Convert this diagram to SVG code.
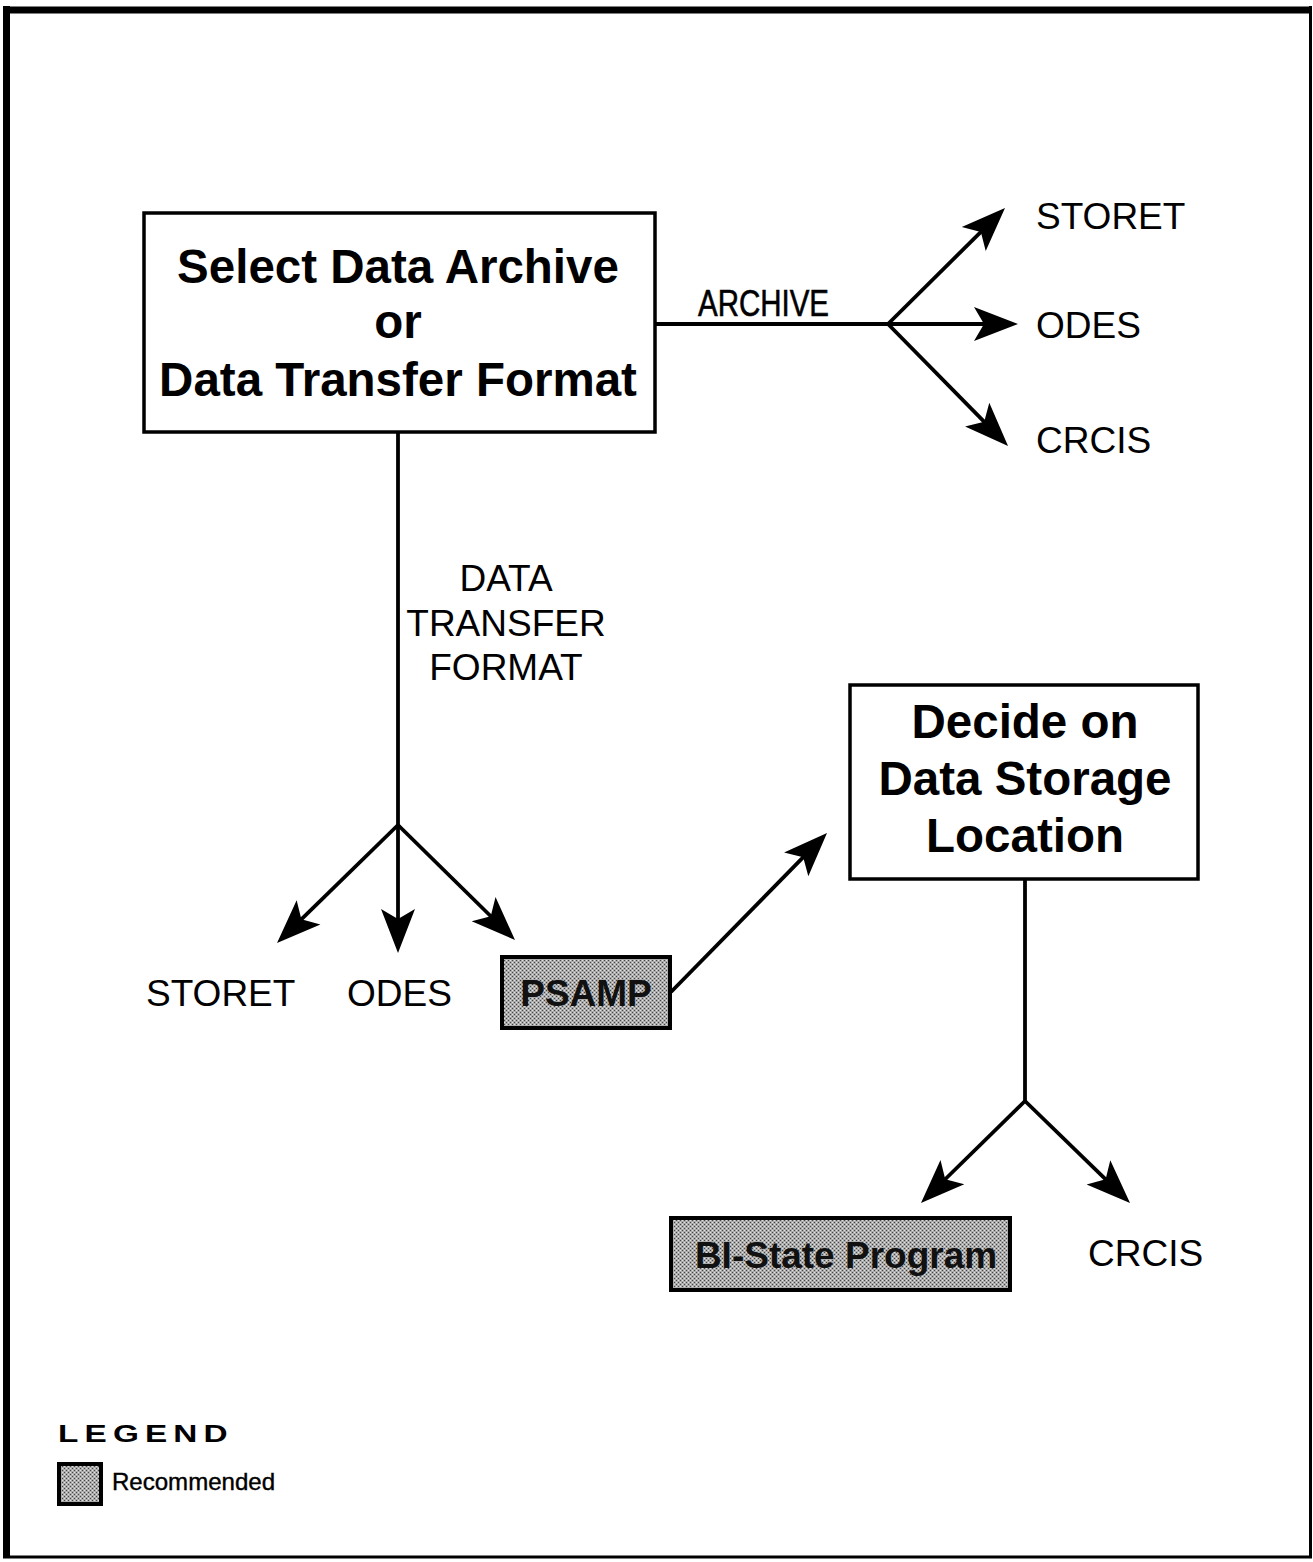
<svg xmlns="http://www.w3.org/2000/svg" width="1313" height="1562" viewBox="0 0 1313 1562">
<style>
  .line { stroke: #000; stroke-width: 3.8; fill: none; }
  .box { fill: #fff; stroke: #000; stroke-width: 3.5; }
  .rec { fill: url(#stipple); stroke: #000; stroke-width: 4; }
  .head { font-family: "Liberation Sans", Arial, sans-serif; font-weight: bold; font-size: 47.5px; text-anchor: middle; fill: #000; }
  .lbl { font-family: "Liberation Sans", Arial, sans-serif; font-size: 37px; fill: #000; }
  .rtext { font-family: "Liberation Sans", Arial, sans-serif; font-weight: bold; font-size: 37px; text-anchor: middle; fill: #111; }
</style>
<defs>
  <pattern id="stipple" width="4" height="4" patternUnits="userSpaceOnUse">
    <rect width="4" height="4" fill="#ababab"/>
    <rect x="0" y="0" width="1" height="1" fill="#444"/>
    <rect x="2" y="2" width="1" height="1" fill="#444"/>
    <rect x="2" y="0" width="1" height="1" fill="#e0e0e0"/>
    <rect x="0" y="2" width="1" height="1" fill="#e0e0e0"/>
  </pattern>
  <marker id="arrow" markerUnits="userSpaceOnUse" orient="auto" refX="0" refY="0" markerWidth="1" markerHeight="1" overflow="visible">
    <path d="M30,0 L-14,-17 L-4,0 L-14,17 Z" fill="#000"/>
  </marker>
</defs>
<rect width="1313" height="1562" fill="#fff"/>
<g id="frame">
  <line x1="6.5" y1="6" x2="6.5" y2="1558" stroke="#000" stroke-width="7"/>
  <line x1="3" y1="10" x2="1312" y2="10" stroke="#000" stroke-width="7"/>
  <line x1="1310.5" y1="6" x2="1310.5" y2="1558" stroke="#000" stroke-width="3"/>
  <line x1="3" y1="1557" x2="1312" y2="1557" stroke="#000" stroke-width="3"/>
</g>
<g id="connectors">
  <line class="line" x1="655" y1="324" x2="888" y2="324"/>
  <line class="line" x1="888" y1="324" x2="983.7" y2="229.1" marker-end="url(#arrow)"/>
  <line class="line" x1="888" y1="324" x2="988" y2="324" marker-end="url(#arrow)"/>
  <line class="line" x1="888" y1="324" x2="987" y2="424.6" marker-end="url(#arrow)"/>
  <line class="line" x1="398" y1="432" x2="398" y2="825"/>
  <line class="line" x1="398" y1="825" x2="298.5" y2="922.1" marker-end="url(#arrow)"/>
  <line class="line" x1="398" y1="825" x2="398" y2="923" marker-end="url(#arrow)"/>
  <line class="line" x1="398" y1="825" x2="493.6" y2="919" marker-end="url(#arrow)"/>
  <line class="line" x1="671" y1="992" x2="806" y2="854.4" marker-end="url(#arrow)"/>
  <line class="line" x1="1025" y1="879" x2="1025" y2="1101"/>
  <line class="line" x1="1025" y1="1101" x2="942.4" y2="1182" marker-end="url(#arrow)"/>
  <line class="line" x1="1025" y1="1101" x2="1108.5" y2="1182.1" marker-end="url(#arrow)"/>
  <text class="lbl" x="698" y="316" textLength="131" lengthAdjust="spacingAndGlyphs" font-size="35" stroke="#000" stroke-width="0.6">ARCHIVE</text>
  <text class="lbl" x="506" y="591" text-anchor="middle">DATA</text>
  <text class="lbl" x="506" y="636" text-anchor="middle">TRANSFER</text>
  <text class="lbl" x="506" y="680" text-anchor="middle">FORMAT</text>
</g>
<g id="select-node">
  <rect class="box" x="144" y="213" width="511" height="219"/>
  <text class="head" x="398" y="283">Select Data Archive</text>
  <text class="head" x="398" y="338">or</text>
  <text class="head" x="398" y="396">Data Transfer Format</text>
</g>
<g id="storet-top"><text class="lbl" x="1036" y="229">STORET</text></g>
<g id="odes-top"><text class="lbl" x="1036" y="338">ODES</text></g>
<g id="crcis-top"><text class="lbl" x="1036" y="453">CRCIS</text></g>
<g id="storet-bottom"><text class="lbl" x="146" y="1006">STORET</text></g>
<g id="odes-bottom"><text class="lbl" x="347" y="1006">ODES</text></g>
<g id="psamp-node">
  <rect class="rec" x="502" y="957" width="168" height="71"/>
  <text class="rtext" x="586" y="1006">PSAMP</text>
</g>
<g id="decide-node">
  <rect class="box" x="850" y="685" width="348" height="194"/>
  <text class="head" x="1025" y="738">Decide on</text>
  <text class="head" x="1025" y="795">Data Storage</text>
  <text class="head" x="1025" y="852">Location</text>
</g>
<g id="bistate-node">
  <rect class="rec" x="671" y="1218" width="339" height="72"/>
  <text class="rtext" x="846" y="1268">BI-State Program</text>
</g>
<g id="crcis-bottom"><text class="lbl" x="1088" y="1266">CRCIS</text></g>
<g id="legend">
  <text transform="translate(58,1442) scale(1.45,1)" x="0" y="0" font-family="Liberation Sans, Arial, sans-serif" font-weight="bold" font-size="23" textLength="117" lengthAdjust="spacing" fill="#000">LEGEND</text>
  <rect class="rec" x="59" y="1464" width="42" height="40" stroke-width="3.5"/>
  <text x="112" y="1490" font-family="Liberation Sans, Arial, sans-serif" font-size="24" textLength="163" lengthAdjust="spacingAndGlyphs" fill="#000" stroke="#000" stroke-width="0.4">Recommended</text>
</g>
</svg>
